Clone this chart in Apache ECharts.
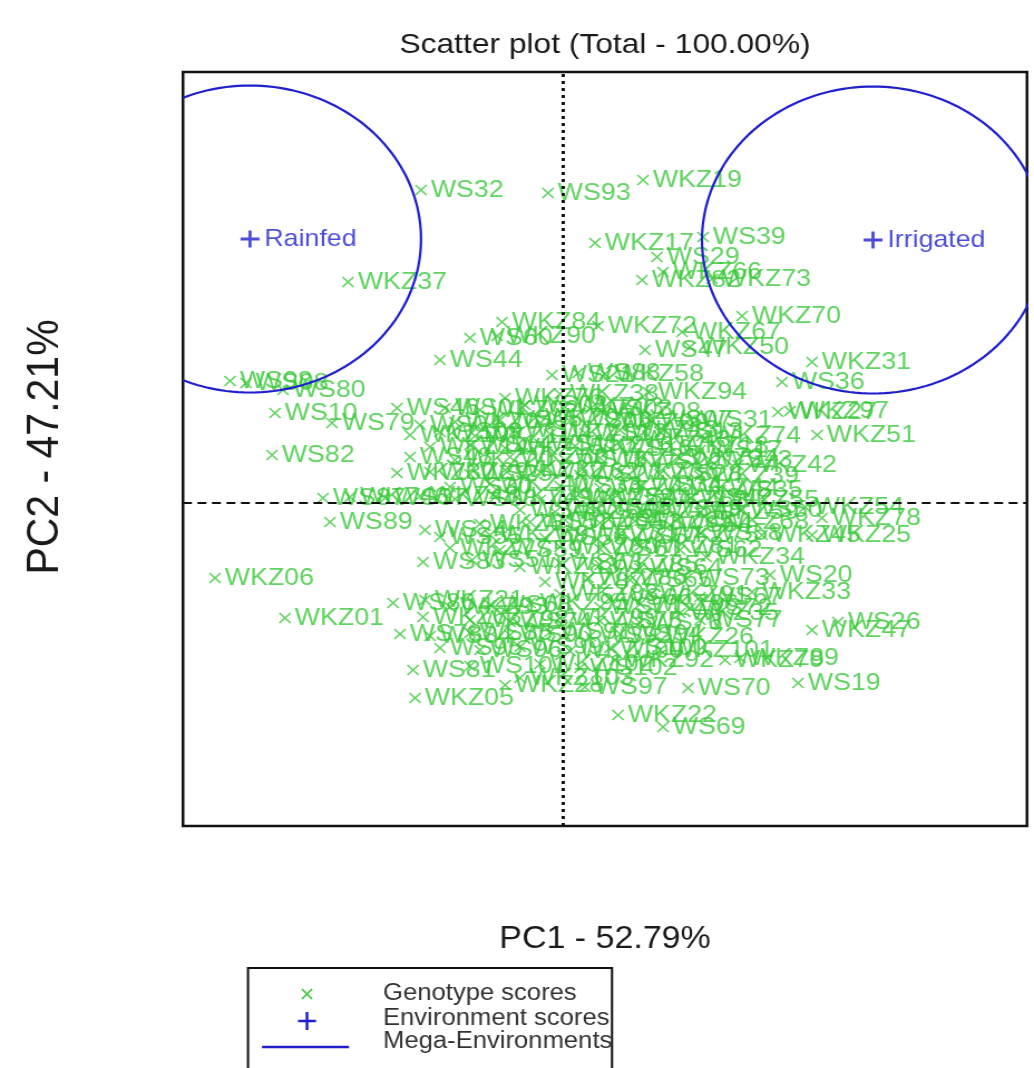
<!DOCTYPE html>
<html><head><meta charset="utf-8">
<script src="https://cdn.jsdelivr.net/npm/echarts@6/dist/echarts.min.js"></script>
<style>
html,body{margin:0;padding:0;background:#fff;overflow:hidden;}
#wrap{width:928px;height:1068px;transform:scaleX(1.11422);transform-origin:0 0;}
#chart{width:928px;height:1068px;}
</style></head>
<body><div id="wrap"><div id="chart"></div></div>
<script>
var titleText = 'Scatter plot (Total - 100.00%)';
var xAxisName = 'PC1 - 52.79%';
var yAxisName = 'PC2 - 47.21%';
var legendItems = ['Genotype scores', 'Environment scores', 'Mega-Environments'];

var genoNames = ['WS32','WS93','WKZ19','WKZ17','WS39','WS29','WKZ82','WKZ66','WKZ73','WKZ37',
'WKZ70','WKZ67','WS47','WKZ50','WKZ84','WKZ72','WS60','WKZ90','WS44','WS21',
'WS88','WKZ58','WKZ76','WKZ94','WKZ38','WKZ08','WS36','WKZ31','WS31','WKZ27',
'WKZ97','WKZ74','WKZ51','WKZ42','WKZ43','WS46','WS10','WS79','WS80','WS98',
'WS08','WS82','WS48','WKZ60','WKZ30','WKZ62','WS87','WS89','WS24','WS83',
'WS51','WKZ06','WKZ01','WS86','WKZ21','WKZ63','WS81','WKZ05','WKZ28','WS97',
'WS70','WS19','WKZ79','WKZ89','WKZ92','WKZ22','WS69','WKZ26','WKZ35','WKZ33',
'WS73','WS20','WKZ34','WKZ86','WKZ54','WKZ78','WKZ25','WKZ45','WS26','WKZ47',
'WS01','WKZ02','WS02','WKZ03','WS03',
'WS04','WKZ04','WS05','WKZ07','WS06','WKZ09','WS07',
'WKZ10','WS09','WKZ11','WS11','WKZ12','WS12','WKZ13','WS13',
'WKZ14','WS14','WKZ15','WS15','WKZ16','WS16','WKZ18','WS17',
'WKZ20','WS18','WKZ23','WS22','WKZ24','WS23',
'WKZ29','WS25','WKZ32','WS27','WKZ36','WS28','WKZ39',
'WS30','WKZ40','WS33','WKZ41','WS34','WKZ44','WS35',
'WKZ46','WS37','WKZ48','WS38','WKZ49','WS40','WKZ52','WS41','WKZ53','WS42','WKZ55',
'WS43','WKZ56','WS45','WKZ57','WS49','WKZ59','WS50',
'WKZ61','WS52','WKZ64','WS53','WKZ65','WS54','WKZ68',
'WS55','WKZ69','WS56','WKZ71','WS57','WKZ75','WS58',
'WKZ77','WS59','WKZ80','WS61','WKZ81','WS62',
'WKZ83','WS63','WKZ85','WS64',
'WKZ87','WS65',
'WKZ88','WS66','WKZ91','WS67',
'WKZ93','WS68','WKZ95','WS71','WKZ96','WS72',
'WKZ98','WS74','WKZ99','WS75','WS76','WS77',
'WS78','WS84','WS85','WS90','WS91','WS92','WS94',
'WS95','WS96','WS99','WKZ100','WS100','WKZ101',
'WS101','WKZ102','WS102','WKZ103'];

var genoX = [-1.42,-0.15,0.80,0.32,1.40,0.94,0.79,1.00,1.49,-2.15,
1.79,1.19,0.82,1.27,-0.61,0.35,-0.93,-0.66,-1.23,-0.11,
0.15,0.42,-0.58,0.85,-0.03,0.39,2.19,2.49,1.27,2.15,
2.27,1.39,2.54,1.75,0.69,-1.66,-2.88,-2.31,-2.80,-3.33,
-3.17,-2.91,-1.53,-0.53,-1.66,-0.23,-2.40,-2.33,-1.38,-1.40,
-0.91,-3.48,-2.78,-1.70,-1.38,-1.40,-1.50,-1.48,-0.58,0.22,
1.25,2.35,1.62,1.77,0.52,0.55,1.00,0.92,1.17,1.89,
1.24,2.07,1.43,0.25,2.42,2.59,2.49,1.99,2.75,2.49,
-1.18,-0.83,-0.38,0.02,0.27,
-1.43,-1.08,-0.63,-0.28,0.07,0.47,0.87,
-1.53,-1.23,-0.88,-0.48,-0.13,0.22,0.57,0.97,
-1.33,-0.93,-0.58,-0.23,0.12,0.47,1.07,1.37,
-1.08,0.02,0.37,0.77,1.17,1.47,
-1.33,-0.93,-0.58,0.17,0.57,0.97,1.37,
-1.13,-0.73,-0.03,0.37,0.77,1.17,1.57,
-2.13,-1.78,-1.43,-1.08,-0.68,-0.23,0.12,0.47,0.87,1.27,1.57,
-0.43,-0.08,0.27,0.62,0.97,1.37,1.77,
-0.83,-0.33,0.02,0.37,0.72,1.07,1.47,
-1.23,-0.73,-0.18,0.17,0.57,0.97,1.37,
-1.13,-0.63,-0.03,0.37,0.77,1.17,
-0.43,-0.03,0.37,0.77,
-0.18,0.67,
-0.03,0.47,0.87,1.37,
-1.13,-0.73,-0.33,0.37,0.77,1.27,
-0.93,-0.53,-0.03,0.37,0.77,1.37,
-1.63,-1.33,-0.93,-0.53,-0.13,0.27,0.57,
-1.23,-0.83,-0.43,0.07,0.47,0.97,
-0.93,-0.23,0.17,-0.43];

var genoY = [3.13,3.10,3.23,2.60,2.66,2.46,2.23,2.31,2.24,2.21,
1.87,1.71,1.53,1.56,1.81,1.77,1.65,1.67,1.43,1.28,
1.30,1.29,1.05,1.11,1.09,0.91,1.21,1.41,0.83,0.91,
0.92,0.67,0.68,0.38,0.63,0.95,0.90,0.80,1.13,1.22,
1.20,0.48,0.46,0.46,0.30,0.31,0.05,-0.19,-0.27,-0.59,
-0.57,-0.75,-1.15,-1.00,-0.97,-1.14,-1.67,-1.95,-1.82,-1.84,
-1.85,-1.80,-1.57,-1.55,-1.57,-2.12,-2.24,-1.34,-1.10,-0.89,
-0.75,-0.72,-0.54,-0.75,-0.04,-0.15,-0.32,-0.32,-1.19,-1.27,
0.95,0.93,0.98,0.96,0.94,
0.78,0.81,0.83,0.85,0.82,0.80,0.83,
0.68,0.71,0.67,0.73,0.69,0.70,0.73,0.71,
0.56,0.58,0.55,0.59,0.57,0.54,0.57,0.53,
0.43,0.43,0.45,0.41,0.45,0.43,
0.31,0.29,0.33,0.28,0.31,0.29,0.27,
0.16,0.19,0.17,0.15,0.18,0.15,0.13,
0.06,0.05,0.07,0.04,0.06,0.03,0.05,0.06,0.03,0.05,0.03,
-0.07,-0.09,-0.05,-0.08,-0.06,-0.09,-0.07,
-0.21,-0.19,-0.17,-0.20,-0.18,-0.22,-0.19,
-0.34,-0.32,-0.35,-0.31,-0.34,-0.32,-0.30,
-0.45,-0.47,-0.44,-0.46,-0.43,-0.47,
-0.64,-0.60,-0.62,-0.65,
-0.79,-0.77,
-0.91,-0.95,-0.92,-0.94,
-1.04,-1.02,-1.00,-1.04,-1.01,-1.05,
-1.17,-1.19,-1.15,-1.18,-1.20,-1.17,
-1.31,-1.33,-1.30,-1.32,-1.29,-1.33,-1.31,
-1.45,-1.47,-1.44,-1.48,-1.45,-1.47,
-1.63,-1.61,-1.65,-1.75];

var envNames = ['Rainfed','Irrigated'];
var envX = [-3.13, 3.10];
var envY = [2.64, 2.63];

var megaCX = [-3.13, 3.10];
var megaCY = [2.64, 2.63];
var megaRX = [1.71, 1.71];
var megaRY = [1.535, 1.535];

var GREEN = '#38c838', BLUE = '#1f1fd0';
var SX = 1.11422;
function px(x){ return x / SX; }

var genoData = genoNames.map(function(n,i){ return {name:n, value:[genoX[i], genoY[i]]}; });
var envData = envNames.map(function(n,i){ return {name:n, value:[envX[i], envY[i]]}; });
var megaData = megaCX.map(function(c,i){ return [c, megaCY[i], megaRX[i], megaRY[i]]; });

var chart = echarts.init(document.getElementById('chart'), null, {renderer:'canvas'});
chart.setOption({
  animation:false,
  backgroundColor:'#fff',
  grid:{left:px(183), top:72, width:px(1027-183), height:754, show:true, borderColor:'#111', borderWidth:2.5, backgroundColor:'transparent'},
  xAxis:{type:'value', min:-3.80, max:4.64, axisLine:{show:false}, axisTick:{show:false}, axisLabel:{show:false}, splitLine:{show:false}},
  yAxis:{type:'value', min:-3.23, max:4.31, axisLine:{show:false}, axisTick:{show:false}, axisLabel:{show:false}, splitLine:{show:false}},
  graphic:[
    {type:'text', x:px(605), y:45, style:{text:titleText, font:'28.5px "Liberation Sans", Arial, sans-serif', fill:'#1a1a1a', textAlign:'center', textVerticalAlign:'middle'}},
    {type:'text', x:px(605), y:940, style:{text:xAxisName, font:'30.5px "Liberation Sans", Arial, sans-serif', fill:'#1a1a1a', textAlign:'center', textVerticalAlign:'middle'}},
    {type:'text', x:px(45), y:447, rotation:Math.PI/2, style:{text:yAxisName, font:'41px "Liberation Sans", Arial, sans-serif', fill:'#1a1a1a', textAlign:'center', textVerticalAlign:'middle'}},
    {type:'rect', shape:{x:px(248), y:968, width:px(612-248), height:140}, style:{fill:'#fff', stroke:'#111', lineWidth:2}},
    {type:'polyline', shape:{points:[[px(302),989],[px(312),999]]}, style:{stroke:GREEN, lineWidth:1.6}},
    {type:'polyline', shape:{points:[[px(302),999],[px(312),989]]}, style:{stroke:GREEN, lineWidth:1.6}},
    {type:'polyline', shape:{points:[[px(298),1021],[px(316),1021]]}, style:{stroke:BLUE, lineWidth:2.5}},
    {type:'polyline', shape:{points:[[px(307),1012],[px(307),1030]]}, style:{stroke:BLUE, lineWidth:2.5}},
    {type:'polyline', shape:{points:[[px(262),1047],[px(349),1047]]}, style:{stroke:BLUE, lineWidth:2.5}},
    {type:'text', x:px(383), y:994, style:{text:legendItems[0], font:'23px "Liberation Sans", Arial, sans-serif', fill:'#333', textVerticalAlign:'middle'}},
    {type:'text', x:px(383), y:1019, style:{text:legendItems[1], font:'23px "Liberation Sans", Arial, sans-serif', fill:'#333', textVerticalAlign:'middle'}},
    {type:'text', x:px(383), y:1042, style:{text:legendItems[2], font:'23px "Liberation Sans", Arial, sans-serif', fill:'#333', textVerticalAlign:'middle'}}
  ],
  series:[
    {
      type:'scatter', name:'Genotype scores', data:genoData, z:2, silent:true,
      symbol:'path://M0,0L10,10M0,10L10,0', symbolSize:10,
      itemStyle:{color:'rgba(0,0,0,0)', borderColor:GREEN, borderWidth:1.6},
      label:{show:true, position:'right', distance:3, formatter:'{b}', color:GREEN, fontSize:24, fontFamily:'"Liberation Sans", Arial, sans-serif'}
    },
    {
      type:'scatter', name:'Environment scores', data:envData, z:5, silent:true,
      symbol:'path://M0,5L10,5M5,0L5,10', symbolSize:17,
      itemStyle:{color:'rgba(0,0,0,0)', borderColor:BLUE, borderWidth:2.8},
      label:{show:true, position:'right', distance:3, formatter:'{b}', color:BLUE, fontSize:24, fontFamily:'"Liberation Sans", Arial, sans-serif'}
    },
    {
      type:'custom', name:'Mega-Environments', data:megaData, z:4, clip:true, silent:true,
      renderItem:function(params, api){
        var c = api.coord([api.value(0), api.value(1)]);
        var s = api.size([api.value(2), api.value(3)]);
        var pts = [];
        for (var i=0;i<=180;i++){ var t=i/180*2*Math.PI; pts.push([c[0]+s[0]*Math.cos(t), c[1]+s[1]*Math.sin(t)]); }
        return {type:'polyline', shape:{points:pts}, style:{stroke:BLUE, lineWidth:2.2, fill:null}};
      }
    },
    {
      type:'scatter', data:[], z:6, silent:true,
      markLine:{silent:true, symbol:['none','none'], label:{show:false},
        data:[
          {xAxis:0, lineStyle:{color:'#111', type:[3,4], width:3}},
          {yAxis:0, lineStyle:{color:'#111', type:[8,5], width:2.2}}
        ]}
    }
  ]
});
</script>
</body></html>
